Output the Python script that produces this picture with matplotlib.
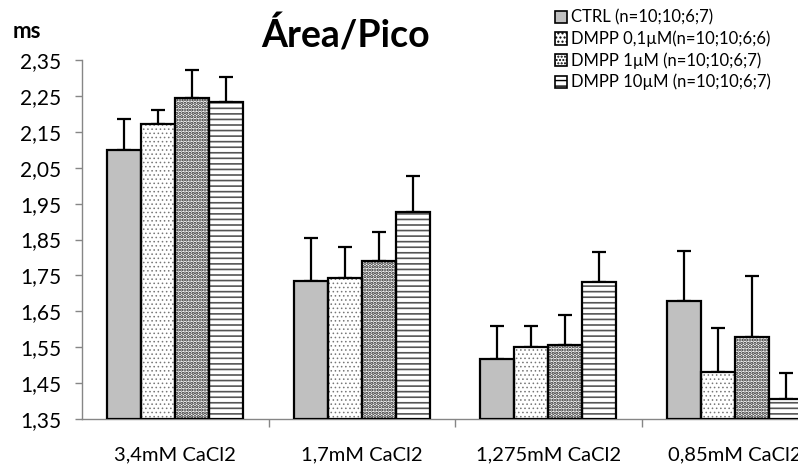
import numpy as np
import matplotlib
matplotlib.use("Agg")
import matplotlib.pyplot as plt
from matplotlib.ticker import FixedLocator

plt.rcParams['font.family'] = ['Lato', 'DejaVu Sans']

# Data
categories = ['3,4mM CaCl2', '1,7mM CaCl2', '1,275mM CaCl2', '0,85mM CaCl2']
series = ['CTRL (n=10;10;6;7)', 'DMPP 0,1µM(n=10;10;6;6)',
          'DMPP 1µM (n=10;10;6;7)', 'DMPP 10µM (n=10;10;6;7)']
ctrl = [2.10, 1.734, 1.517, 1.678]
dmpp01 = [2.172, 1.743, 1.550, 1.482]
dmpp1 = [2.245, 1.790, 1.556, 1.579]
dmpp10 = [2.232, 1.926, 1.731, 1.406]
ctrl_err = [0.085, 0.121, 0.092, 0.140]
dmpp01_err = [0.039, 0.085, 0.059, 0.121]
dmpp1_err = [0.077, 0.080, 0.084, 0.169]
dmpp10_err = [0.071, 0.101, 0.083, 0.073]
yticks = [1.35, 1.45, 1.55, 1.65, 1.75, 1.85, 1.95, 2.05, 2.15, 2.25, 2.35]

values = [ctrl, dmpp01, dmpp1, dmpp10]
errors = [ctrl_err, dmpp01_err, dmpp1_err, dmpp10_err]
faces = ['#c0c0c0', 'white', 'white', 'white']
hatches = [None, '....', '.....', '---']
hatch_cols = ['black', '#777777', '#222222', '#555555']
hatch_lw = [1.0, 0.6, 1.6, 1.2]

fig = plt.figure(figsize=(7.98, 4.68), dpi=100)
ax = fig.add_axes([82/798, 49/468, 746/798, 359/468])

x = np.arange(len(categories))
w = 0.182
base = 1.35
handles = []
for i in range(4):
    pos = x + (i - 1.5) * w
    heights = np.array(values[i]) - base
    with plt.rc_context({'hatch.linewidth': hatch_lw[i]}):
        ax.bar(pos, heights, w, bottom=base, color=faces[i],
               edgecolor=hatch_cols[i], hatch=hatches[i], linewidth=0, zorder=2)
    ax.bar(pos, heights, w, bottom=base, color='none',
           edgecolor='black', linewidth=1.6, zorder=3)
    ax.errorbar(pos, values[i], yerr=[np.zeros(4), errors[i]], fmt='none',
                ecolor='black', elinewidth=1.6, capsize=5, capthick=1.6, zorder=1)
    with plt.rc_context({'hatch.linewidth': hatch_lw[i]}):
        h = plt.Rectangle((0, 0), 1, 1, facecolor=faces[i], edgecolor='black',
                          linewidth=1.2, hatch=hatches[i])
    handles.append(h)

ax.set_xlim(-0.5, 3.5)
ax.set_ylim(1.35, 2.35)
ax.set_yticks(yticks)
ax.set_yticklabels([f'{v:.2f}'.replace('.', ',') for v in yticks], fontsize=15)
ax.set_xticks(x)
ax.set_xticklabels(categories, fontsize=14.5)
ax.xaxis.set_minor_locator(FixedLocator([0.5, 1.5, 2.5]))
ax.tick_params(axis='x', which='major', length=0, pad=20)
ax.tick_params(axis='x', which='minor', length=6, color='#868686', width=1)
ax.tick_params(axis='y', length=5, color='#868686', width=1, pad=10)
for s in ['top', 'right']:
    ax.spines[s].set_visible(False)
for s in ['left', 'bottom']:
    ax.spines[s].set_color('#868686')
    ax.spines[s].set_linewidth(1)

fig.text(13/798, 1 - 31/468, 'ms', fontsize=16, fontweight='bold', va='center')
fig.text(346/798, 1 - 34/468, 'Área/Pico', fontsize=27, fontweight='bold',
         ha='center', va='center')

fig.legend(handles, series, loc='upper left', bbox_to_anchor=(548/798, 1 - 3/468),
           frameon=False, fontsize=12, handlelength=0.75, handleheight=0.75,
           handletextpad=0.25, labelspacing=0.3, borderaxespad=0)

fig.savefig('out.png', dpi=100)
